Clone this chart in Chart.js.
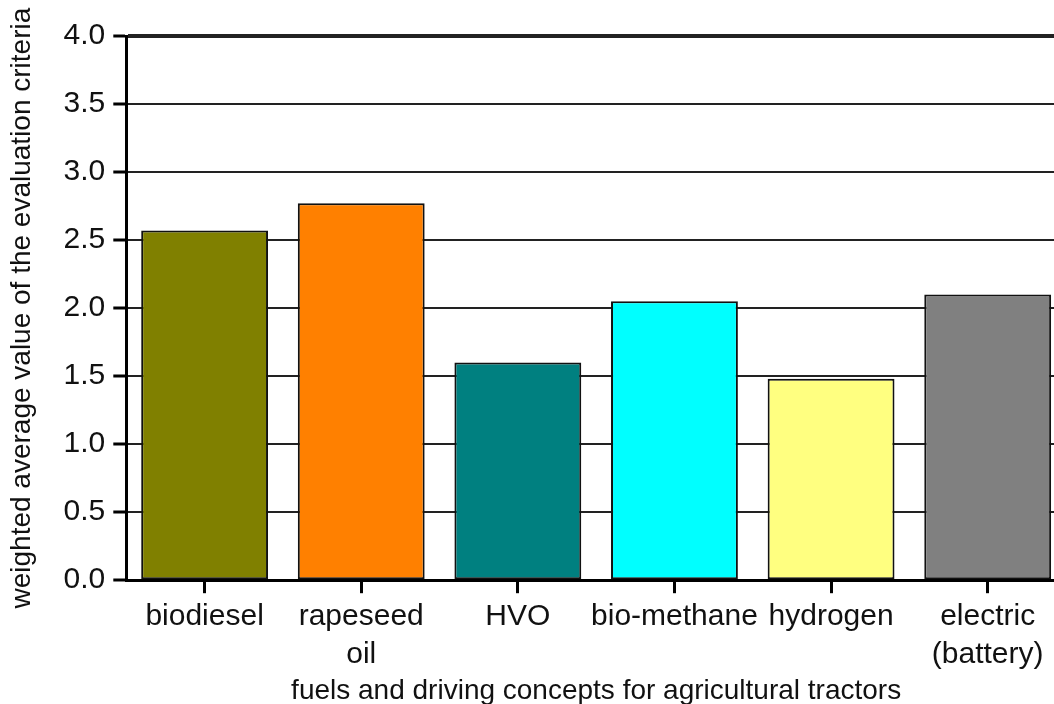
<!DOCTYPE html>
<html>
<head>
<meta charset="utf-8">
<script src="https://cdn.jsdelivr.net/npm/chart.js@4/dist/chart.umd.min.js"></script>
<style>
  html, body { margin: 0; padding: 0; background: #fff; overflow: hidden; }
  #wrap { width: 1068px; height: 711px; }
</style>
</head>
<body>
<div id="wrap"><canvas id="fuelChart"></canvas></div>
<script>
// fuels / driving concepts and their weighted scores
const categories = [
  'biodiesel',
  ['rapeseed', 'oil'],
  'HVO',
  'bio-methane',
  'hydrogen',
  ['electric', '(battery)']
];
const scores = [2.57, 2.77, 1.60, 2.05, 1.48, 2.10];
const barColors = ['#808000', '#ff8000', '#008080', '#00ffff', '#ffff80', '#808080'];
const yTicks = [0, 0.5, 1.0, 1.5, 2.0, 2.5, 3.0, 3.5, 4.0];

const FONT = 'Liberation Sans, Arial, sans-serif';
const TEXT = '#111';

const ctx = document.getElementById('fuelChart').getContext('2d');
new Chart(ctx, {
  type: 'bar',
  data: {
    labels: categories,
    datasets: [{
      data: scores,
      backgroundColor: barColors,
      borderColor: '#111',
      borderWidth: 2,
      borderSkipped: false,
      barPercentage: 0.81,
      categoryPercentage: 1.0
    }]
  },
  options: {
    responsive: true,
    maintainAspectRatio: false,
    animation: false,
    layout: { padding: { top: 36, right: 2, left: 5, bottom: 0 } },
    plugins: {
      legend: { display: false },
      tooltip: { enabled: false }
    },
    scales: {
      x: {
        grid: {
          offset: false,
          drawOnChartArea: false,
          drawTicks: true,
          tickLength: 13,
          tickWidth: 3,
          tickColor: '#000'
        },
        border: { display: true, color: '#000', width: 3 },
        ticks: {
          color: TEXT,
          padding: 4,
          maxRotation: 0,
          autoSkip: false,
          font: { family: FONT, size: 30, lineHeight: 1.27 }
        },
        title: {
          display: true,
          text: 'fuels and driving concepts for agricultural tractors',
          color: TEXT,
          padding: { top: -3, bottom: 3 },
          font: { family: FONT, size: 28 }
        }
      },
      y: {
        min: 0,
        max: 4,
        afterBuildTicks: axis => { axis.ticks = yTicks.map(v => ({ value: v })); },
        grid: {
          color: '#222',
          lineWidth: c => (c.tick && c.tick.value === 4 ? 4 : 2),
          tickLength: 13,
          tickWidth: 3,
          tickColor: '#000'
        },
        border: { display: true, color: '#000', width: 3 },
        ticks: {
          color: TEXT,
          padding: 8,
          callback: v => Number(v).toFixed(1),
          font: { family: FONT, size: 30 }
        },
        title: {
          display: true,
          text: 'weighted average value of the evaluation criteria',
          color: TEXT,
          padding: { top: 0, bottom: 17 },
          font: { family: FONT, size: 28 }
        }
      }
    }
  }
});
</script>
</body>
</html>
